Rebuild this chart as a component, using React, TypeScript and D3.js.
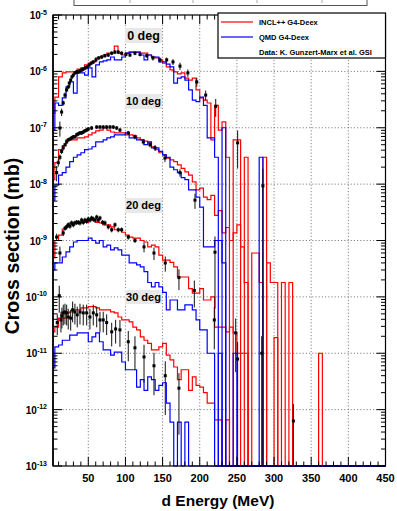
import React from "react";
import * as d3 from "d3";

// ---------------- data (5 MeV bins starting at 0 MeV; 0 = empty bin) ----------------
const BIN_WIDTH = 5;
const N_BINS = 90;
const X_TICK_VALUES = [50, 100, 150, 200, 250, 300, 350, 400, 450];
const Y_EXPONENTS = [-5, -6, -7, -8, -9, -10, -11, -12, -13];
const ANGLE_LABELS = ["0 deg", "10 deg", "20 deg", "30 deg"];
const LEGEND_LABELS = ["INCL++ G4-Deex", "QMD G4-Deex", "Data: K. Gunzert-Marx et al. GSI"];

// INCL++ (red)
const incl0 = [1.8e-7, 3.5e-7, 8.0e-7, 9.4e-7, 9.8e-7, 9.8e-7, 9.8e-7, 1.1e-6, 1.15e-6, 1.3e-6,
  1.4e-6, 1.47e-6, 1.73e-6, 1.8e-6, 1.95e-6, 2.1e-6, 2.1e-6, 2.8e-6, 2.1e-6, 1.95e-6,
  2.1e-6, 2.2e-6, 2.2e-6, 2.2e-6, 2.1e-6, 2.1e-6, 1.95e-6, 1.8e-6, 1.73e-6, 1.6e-6,
  1.4e-6, 1.2e-6, 1.06e-6, 9.8e-7, 9.0e-7, 9.4e-7, 7.6e-7, 7.0e-7, 7.6e-7, 4.7e-7,
  3.4e-7, 3.1e-7, 2.75e-7, 6.1e-8, 2.5e-7, 9.1e-8, 1.27e-7, 3.0e-8, 0, 6.1e-8,
  6.1e-8, 0, 3.0e-8, 0, 0, 0, 0, 3.0e-8];
const incl10 = [1.2e-8, 2.4e-8, 4.1e-8, 4.8e-8, 6.1e-8, 6.1e-8, 6.1e-8, 6.6e-8, 6.6e-8, 6.9e-8,
  7.5e-8, 8.1e-8, 8.8e-8, 9.1e-8, 9.9e-8, 9.1e-8, 8.4e-8, 8.1e-8, 8.1e-8, 8.1e-8,
  7.5e-8, 7.5e-8, 7.2e-8, 6.6e-8, 6.1e-8, 5.8e-8, 5.4e-8, 4.6e-8, 4.1e-8, 3.6e-8,
  3.3e-8, 2.9e-8, 2.7e-8, 2.5e-8, 2.2e-8, 1.9e-8, 1.65e-8, 1.45e-8, 1.1e-8, 7.9e-9,
  8.5e-9, 5.9e-9, 5.3e-9, 6.3e-9, 2.8e-9, 3.4e-9, 1.36e-9, 1.7e-9, 1.0e-9, 1.36e-9,
  1.9e-9, 7.7e-10, 1.8e-10, 0, 6.0e-10, 6.0e-10, 1.8e-10, 0, 4.0e-10, 1.8e-10,
  1.8e-10, 0, 1.8e-10, 0, 1.8e-10];
const incl20 = [4.9e-10, 1.0e-9, 1.25e-9, 1.6e-9, 1.8e-9, 2.05e-9, 2.05e-9, 2.05e-9, 2.1e-9, 2.1e-9,
  2.3e-9, 2.3e-9, 2.1e-9, 2.05e-9, 1.9e-9, 1.9e-9, 1.75e-9, 1.55e-9, 1.55e-9, 1.4e-9,
  1.25e-9, 1.15e-9, 1.1e-9, 1.1e-9, 1.0e-9, 9.4e-10, 7.7e-10, 8.3e-10, 7.7e-10, 5.5e-10,
  4.5e-10, 4.5e-10, 4.1e-10, 3.4e-10, 2.25e-10, 2.25e-10, 2.25e-10, 1.4e-10, 1.17e-10, 1.17e-10,
  1.4e-10, 8.8e-11, 8.8e-11, 1.0e-10, 2.9e-11, 2.9e-11, 2.9e-11, 2.4e-11, 2.9e-11, 2.3e-11,
  1.0e-11, 1.0e-11, 1.0e-11, 0, 0, 0, 0, 0, 0, 0,
  1.9e-11, 0, 0, 0, 0, 0, 0, 0, 0, 0,
  0, 0, 1.0e-11];
const incl30 = [2.4e-11, 2.9e-11, 4.2e-11, 4.2e-11, 5.2e-11, 5.4e-11, 5.9e-11, 5.9e-11, 6.4e-11, 6.4e-11,
  6.7e-11, 6.7e-11, 6.4e-11, 5.9e-11, 5.9e-11, 5.9e-11, 5.4e-11, 5.2e-11, 4.4e-11, 3.9e-11,
  3.9e-11, 3.6e-11, 2.9e-11, 2.6e-11, 1.95e-11, 1.7e-11, 1.5e-11, 1.15e-11, 1.15e-11, 1.3e-11,
  1.5e-11, 9.3e-12, 7.6e-12, 5.7e-12, 3.4e-12, 5.1e-12, 5.1e-12, 2.2e-12, 3.8e-12, 2.7e-12,
  2.5e-12, 2.0e-12, 1.3e-12, 1.3e-12, 6.6e-13, 6.6e-13, 0, 6.6e-13];

// QMD (blue)
const qmd0 = [9.1e-8, 2.75e-7, 2.5e-7, 3.4e-7, 5.3e-7, 6.5e-7, 4.1e-7, 9.4e-7, 9.4e-7, 8.6e-7,
  1.15e-6, 8.0e-7, 1.3e-6, 1.47e-6, 1.53e-6, 1.6e-6, 1.8e-6, 1.6e-6, 1.6e-6, 1.8e-6,
  2.1e-6, 2.2e-6, 2.2e-6, 2.2e-6, 1.95e-6, 1.6e-6, 1.95e-6, 1.8e-6, 1.8e-6, 1.47e-6,
  1.47e-6, 1.35e-6, 1.2e-6, 6.2e-7, 7.6e-7, 8.0e-7, 7.0e-7, 4.7e-7, 3.1e-7, 2.9e-7,
  3.5e-7, 2.5e-7, 6.6e-8, 6.6e-8, 3.0e-8, 0, 1.0e-7, 0, 0, 0,
  0, 0, 0, 0, 0, 0, 3.0e-8];
const qmd10 = [5.2e-9, 9.6e-9, 1.45e-8, 1.6e-8, 2.0e-8, 2.5e-8, 3.0e-8, 3.3e-8, 3.6e-8, 4.1e-8,
  4.2e-8, 4.6e-8, 5.6e-8, 5.6e-8, 6.1e-8, 6.6e-8, 6.9e-8, 7.5e-8, 7.5e-8, 7.5e-8,
  8.1e-8, 6.6e-8, 6.6e-8, 6.1e-8, 6.1e-8, 5.0e-8, 5.6e-8, 4.4e-8, 4.4e-8, 3.8e-8,
  3.3e-8, 3.0e-8, 2.0e-8, 1.8e-8, 1.6e-8, 1.3e-8, 1.2e-8, 7.9e-9, 7.9e-9, 5.9e-9,
  3.9e-9, 7.7e-10, 7.7e-10, 7.7e-10, 1.0e-9, 1.0e-9, 4.0e-10];
const qmd20 = [3.0e-10, 4.0e-10, 4.0e-10, 5.1e-10, 6.3e-10, 7.7e-10, 9.4e-10, 1.0e-9, 1.0e-9, 1.0e-9,
  1.1e-9, 1.0e-9, 9.0e-10, 1.0e-9, 7.7e-10, 8.3e-10, 6.8e-10, 7.4e-10, 6.8e-10, 5.5e-10,
  5.5e-10, 4.0e-10, 4.0e-10, 3.7e-10, 3.4e-10, 2.8e-10, 1.8e-10, 1.5e-10, 1.8e-10, 1.5e-10,
  1.2e-10, 5.9e-11, 8.8e-11, 8.8e-11, 5.9e-11, 5.9e-11, 7.2e-11, 7.2e-11, 5.9e-11, 3.9e-11,
  2.6e-11, 2.6e-11, 1.0e-11, 1.0e-11, 0, 1.0e-11, 0, 0, 0, 1.0e-11];
const qmd30 = [5.5e-12, 1.3e-11, 1.4e-11, 1.7e-11, 1.7e-11, 2.1e-11, 2.1e-11, 2.3e-11, 2.3e-11, 2.3e-11,
  1.6e-11, 1.95e-11, 2.3e-11, 1.6e-11, 1.15e-11, 1.15e-11, 9.3e-12, 1.05e-11, 1.05e-11, 7.0e-12,
  5.1e-12, 5.1e-12, 5.1e-12, 2.5e-12, 3.4e-12, 2.2e-12, 3.8e-12, 3.4e-12, 2.2e-12, 2.7e-12,
  3.0e-12, 1.3e-12, 6.0e-13, 0, 6.0e-13, 0, 6.0e-13];

// Data (energy in MeV, cross section, relative error)
const data0E = [11.8, 14.1, 16.3, 18.6, 20.9, 23.0, 24.4, 26.3, 28.0, 29.8, 32.0, 34.3, 36.5, 38.8, 41.1,
  43.2, 45.9, 48.6, 51.3, 54.0, 56.7, 60.3, 64.0, 68.0, 72.4, 76.9, 81.5, 85.9, 90.3, 94.9,
  100.7, 106.1, 112.8, 119.6, 128.6, 137, 146.5, 155.5, 164, 173.4, 184, 196, 208, 221.5, 251, 285];
const data0V = [9.9e-8, 1.9e-7, 2.75e-7, 3.8e-7, 4.7e-7, 5.3e-7, 6.2e-7, 7.0e-7, 8.0e-7, 8.6e-7,
  9.4e-7, 9.8e-7, 9.8e-7, 1.02e-6, 1.06e-6, 1.1e-6, 1.15e-6, 1.2e-6, 1.3e-6, 1.4e-6,
  1.47e-6, 1.6e-6, 1.73e-6, 1.8e-6, 1.9e-6, 1.95e-6, 2.1e-6, 2.2e-6, 2.2e-6, 2.1e-6,
  2.0e-6, 1.95e-6, 2.1e-6, 2.0e-6, 1.9e-6, 1.73e-6, 1.6e-6, 1.6e-6, 1.47e-6, 1.24e-6,
  9.4e-7, 6.5e-7, 3.8e-7, 2.4e-7, 5.4e-8, 9.3e-9];
const data0Err = [0.3, 0.15, 0.1, 0.1, 0.1, 0.08, 0.08, 0.08, 0.08, 0.08, 0.08, 0.08, 0.08, 0.08, 0.08,
  0.08, 0.08, 0.08, 0.08, 0.08, 0.08, 0.08, 0.08, 0.08, 0.08, 0.08, 0.08, 0.08, 0.08, 0.08,
  0.08, 0.08, 0.08, 0.08, 0.08, 0.1, 0.1, 0.1, 0.12, 0.15, 0.15, 0.18, 0.2, 0.35, 0.65, 1.0];

const data10E = [7.4, 9.6, 11.8, 14.1, 16.3, 18.6, 20.9, 23.0, 25.3, 27.6, 29.8, 32.0, 34.3, 36.5, 38.8,
  41.1, 43.2, 45.5, 47.8, 50, 54.5, 61.3, 65.7, 70.1, 74.7, 79.2, 83.6, 88.2, 92.6, 103.8,
  112.8, 124, 133, 139.8, 153.2, 173.4, 193.6, 220.5];
const data10V = [1.6e-8, 2.4e-8, 3.0e-8, 3.8e-8, 4.4e-8, 5.0e-8, 5.6e-8, 6.1e-8, 6.3e-8, 6.6e-8,
  6.9e-8, 6.9e-8, 7.5e-8, 7.8e-8, 8.1e-8, 8.1e-8, 8.4e-8, 8.8e-8, 9.1e-8, 9.5e-8,
  9.9e-8, 1.03e-7, 1.03e-7, 1.03e-7, 1.03e-7, 1.03e-7, 1.03e-7, 9.9e-8, 9.1e-8, 8.1e-8,
  6.9e-8, 5.6e-8, 5.0e-8, 4.4e-8, 2.9e-8, 1.6e-8, 5.2e-9, 6.2e-10];
const data10Err = [0.3, 0.15, 0.12, 0.1, 0.1, 0.08, 0.08, 0.08, 0.08, 0.08, 0.08, 0.08, 0.08, 0.08, 0.08,
  0.08, 0.08, 0.08, 0.08, 0.08, 0.08, 0.08, 0.08, 0.08, 0.08, 0.08, 0.08, 0.08, 0.08, 0.08,
  0.1, 0.1, 0.1, 0.12, 0.15, 0.15, 0.3, 0.9];

const data20E = [7.4, 11.8, 16.3, 18.6, 20.9, 23.0, 25.3, 27.6, 29.8, 32.0, 34.3, 36.5, 38.8, 41.1, 43.2,
  45.5, 47.8, 50, 52.2, 54.5, 56.7, 59, 61.3, 63.4, 65.7, 69.3, 72.4, 76.9, 81.5, 85.9,
  90.3, 94.9, 103.8, 112.8, 125, 138.4, 153.6, 172, 192.7, 219.6, 248.4, 251, 283.4];
const data20V = [1.15e-9, 6.0e-10, 1.36e-9, 1.65e-9, 1.75e-9, 1.9e-9, 1.8e-9, 2.05e-9, 1.9e-9, 2.05e-9,
  2.1e-9, 2.1e-9, 2.05e-9, 2.3e-9, 2.1e-9, 2.3e-9, 2.2e-9, 2.4e-9, 2.3e-9, 2.5e-9,
  2.4e-9, 2.3e-9, 2.6e-9, 2.3e-9, 2.5e-9, 2.1e-9, 2.05e-9, 1.75e-9, 1.55e-9, 1.9e-9,
  1.55e-9, 1.55e-9, 1.15e-9, 1.0e-9, 7.7e-10, 6.0e-10, 4.0e-10, 2.2e-10, 1.3e-10, 3.9e-11,
  2.3e-11, 7.9e-12, 1.0e-11];
const data20Err = [0.15, 0.3, 0.12, 0.1, 0.1, 0.1, 0.1, 0.1, 0.1, 0.1, 0.1, 0.1, 0.1, 0.1, 0.1,
  0.1, 0.1, 0.1, 0.1, 0.1, 0.1, 0.1, 0.1, 0.1, 0.1, 0.1, 0.1, 0.1, 0.1, 0.1,
  0.1, 0.1, 0.1, 0.1, 0.2, 0.25, 0.3, 0.4, 0.5, 0.7, 0.8, 1.0, 1.0];

const data30E = [8.2, 10.9, 13.2, 14.5, 16.3, 18.6, 20.9, 23.0, 26.3, 28.9, 32.0, 35.1, 38.8, 43.2, 47.8,
  52.2, 56.7, 61.3, 65.7, 70.1, 74.7, 81.5, 86.8, 92.6, 103.8, 112.8, 125, 138.4, 153.6, 172, 326];
const data30V = [3.5e-11, 1.05e-10, 3.9e-11, 4.6e-11, 5.2e-11, 5.4e-11, 5.2e-11, 4.4e-11, 4.2e-11, 5.9e-11,
  5.4e-11, 4.8e-11, 5.4e-11, 5.2e-11, 5.2e-11, 4.4e-11, 5.2e-11, 4.8e-11, 3.9e-11, 3.9e-11,
  3.5e-11, 2.4e-11, 2.7e-11, 2.6e-11, 1.6e-11, 1.25e-11, 8.6e-12, 6.0e-12, 4.0e-12, 2.4e-12, 6.3e-13];
const data30Err = [0.4, 0.5, 0.4, 0.4, 0.4, 0.4, 0.4, 0.4, 0.4, 0.4, 0.4, 0.4, 0.4, 0.4, 0.4,
  0.4, 0.4, 0.4, 0.4, 0.4, 0.4, 0.45, 0.45, 0.5, 0.55, 0.6, 0.65, 0.7, 0.8, 0.85, 1.0];

// ---------------- layout ----------------
const W = 397;
const H = 511;
const L = 53;
const R = 385.5;
const T = 15;
const B = 466;
const FONT = "'Liberation Sans', Arial, Helvetica, sans-serif";
const RED = "#ff0000";
const BLUE = "#0000ff";

const LABEL_BOXES = [
  { y: 28, h: 15, size: 12.5 },
  { y: 94, h: 15, size: 11 },
  { y: 198, h: 15, size: 11 },
  { y: 290, h: 14, size: 11 },
];

export default function App() {
  const x = d3.scaleLinear().domain([2.5, 450]).range([L, R]);
  const y = d3.scaleLog().domain([1e-13, 1e-5]).range([B, T]);
  const yOf = (v: number) => (v > 0 ? Math.min(B, y(v)) : B);

  const step = d3
    .line<[number, number]>()
    .x((d) => d[0])
    .y((d) => d[1])
    .curve(d3.curveStepAfter);

  const histPath = (vals: number[]) => {
    const pts: [number, number][] = [];
    for (let k = 0; k < N_BINS; k++) {
      pts.push([x(k * BIN_WIDTH), yOf(vals[k] ?? 0)]);
    }
    pts.push([x(N_BINS * BIN_WIDTH), yOf(vals[N_BINS - 1] ?? 0)]);
    return step(pts) || "";
  };

  const inclSets = [incl0, incl10, incl20, incl30];
  const qmdSets = [qmd0, qmd10, qmd20, qmd30];
  const dataSets = [
    { E: data0E, V: data0V, err: data0Err },
    { E: data10E, V: data10V, err: data10Err },
    { E: data20E, V: data20V, err: data20Err },
    { E: data30E, V: data30V, err: data30Err },
  ];

  // ticks
  const yMinor: number[] = [];
  for (let e = -13; e < -5; e++) for (let m = 2; m <= 9; m++) yMinor.push(m * Math.pow(10, e));
  const yMajor = Y_EXPONENTS.map((e) => Math.pow(10, e));
  const xMinor = d3.range(10, 451, 10).filter((v) => v % 50 !== 0);
  const xMajor = X_TICK_VALUES;

  const gridX = X_TICK_VALUES.filter((v) => v < 450);
  const gridY = Y_EXPONENTS.filter((e) => e > -13 && e < -5).map((e) => Math.pow(10, e));

  return (
    <svg
      width={W}
      height={H}
      viewBox={`0 0 ${W} ${H}`}
      style={{ position: "absolute", left: 0, top: 0, background: "#fff" }}
      fontFamily={FONT}
    >
      <defs>
        <clipPath id="frame">
          <rect x={L} y={T} width={R - L} height={B - T + 1.5} />
        </clipPath>
      </defs>
      <rect x={0} y={0} width={W} height={H} fill="#fff" />

      {/* title box (cut at top) */}
      <rect x={74} y={-10} width={293} height={15.5} fill="#fff" stroke="#555" strokeWidth={1} />
      {[130, 193, 257, 322].map((px) => (
        <line key={px} x1={px} x2={px} y1={0} y2={3} stroke="#aaa" strokeWidth={1} />
      ))}

      {/* grid */}
      <g stroke="#666" strokeWidth={0.8} strokeDasharray="1.2,2">
        {gridX.map((v) => (
          <line key={"gx" + v} x1={x(v)} x2={x(v)} y1={T} y2={B} />
        ))}
        {gridY.map((v) => (
          <line key={"gy" + v} x1={L} x2={R} y1={y(v)} y2={y(v)} />
        ))}
      </g>

      {/* histograms */}
      <g clipPath="url(#frame)" fill="none">
        {inclSets.map((s, i) => (
          <path key={"r" + i} d={histPath(s)} stroke={RED} strokeWidth={1.2} />
        ))}
        {qmdSets.map((s, i) => (
          <path key={"b" + i} d={histPath(s)} stroke={BLUE} strokeWidth={1.2} />
        ))}
        {/* data */}
        {dataSets.map((ds, i) => (
          <g key={"d" + i}>
            {ds.E.map((e, j) => {
              const v = ds.V[j];
              const r = ds.err[j];
              const hi = v * (1 + r);
              const lo = v * (1 - r);
              const cx = x(e);
              return (
                <g key={j}>
                  <line x1={cx} x2={cx} y1={yOf(hi)} y2={lo > 0 ? yOf(lo) : B} stroke="#111" strokeWidth={1} />
                  <rect x={cx - 1.5} y={yOf(v) - 1.5} width={3} height={3} fill="#000" />
                </g>
              );
            })}
          </g>
        ))}
      </g>

      {/* angle labels */}
      {ANGLE_LABELS.map((lab, i) => {
        const b = LABEL_BOXES[i];
        return (
          <g key={lab}>
            <rect x={125} y={b.y} width={37} height={b.h} fill="#e8e8e8" />
            <text x={143.5} y={b.y + b.h / 2 + b.size * 0.36} textAnchor="middle" fontWeight="bold" fontSize={b.size} fill="#000">
              {lab}
            </text>
          </g>
        );
      })}

      {/* ticks */}
      <g stroke="#000" strokeWidth={1}>
        {yMajor.map((v) => (
          <g key={"ym" + v}>
            <line x1={L} x2={L + 9} y1={y(v)} y2={y(v)} />
            <line x1={R} x2={R - 9} y1={y(v)} y2={y(v)} />
          </g>
        ))}
        {yMinor.map((v) => (
          <g key={"yn" + v}>
            <line x1={L} x2={L + 4.5} y1={y(v)} y2={y(v)} />
            <line x1={R} x2={R - 4.5} y1={y(v)} y2={y(v)} />
          </g>
        ))}
        {xMajor.map((v) => (
          <g key={"xm" + v}>
            <line x1={x(v)} x2={x(v)} y1={B} y2={B - 9} />
            <line x1={x(v)} x2={x(v)} y1={T} y2={T + 9} />
          </g>
        ))}
        {xMinor.map((v) => (
          <g key={"xn" + v}>
            <line x1={x(v)} x2={x(v)} y1={B} y2={B - 4.5} />
            <line x1={x(v)} x2={x(v)} y1={T} y2={T + 4.5} />
          </g>
        ))}
      </g>

      {/* frame */}
      <rect x={L} y={T} width={R - L} height={B - T} fill="none" stroke="#000" strokeWidth={1.2} />
      <line x1={L} x2={L} y1={T} y2={B} stroke="#000" strokeWidth={1.6} />

      {/* y tick labels */}
      {Y_EXPONENTS.map((e) => (
        <text key={"yl" + e} x={47} y={y(Math.pow(10, e)) + 4} textAnchor="end" fontWeight="bold" fontSize={10} fill="#000">
          10
          <tspan fontSize={7} dy={-4.5}>
            {e}
          </tspan>
        </text>
      ))}

      {/* x tick labels */}
      {X_TICK_VALUES.map((v) => (
        <text key={"xl" + v} x={x(v)} y={482} textAnchor="middle" fontWeight="bold" fontSize={11} fill="#000">
          {v}
        </text>
      ))}

      {/* axis titles */}
      <text x={218} y={506} textAnchor="middle" fontWeight="bold" fontSize={15.5} fill="#000">
        d Energy (MeV)
      </text>
      <text transform="translate(19,246) rotate(-90)" textAnchor="middle" fontWeight="bold" fontSize={19.5} fill="#000">
        Cross section (mb)
      </text>

      {/* legend */}
      <rect x={218} y={13} width={R - 218} height={45} fill="#fff" stroke="#000" strokeWidth={1.2} />
      <line x1={221} x2={253} y1={22} y2={22} stroke={RED} strokeWidth={1.2} />
      <line x1={221} x2={253} y1={37} y2={37} stroke={BLUE} strokeWidth={1.2} />
      {LEGEND_LABELS.map((lab, i) => (
        <text key={lab} x={259} y={24.5 + i * 15} fontWeight="bold" fontSize={7.5} fill="#000">
          {lab}
        </text>
      ))}
    </svg>
  );
}
